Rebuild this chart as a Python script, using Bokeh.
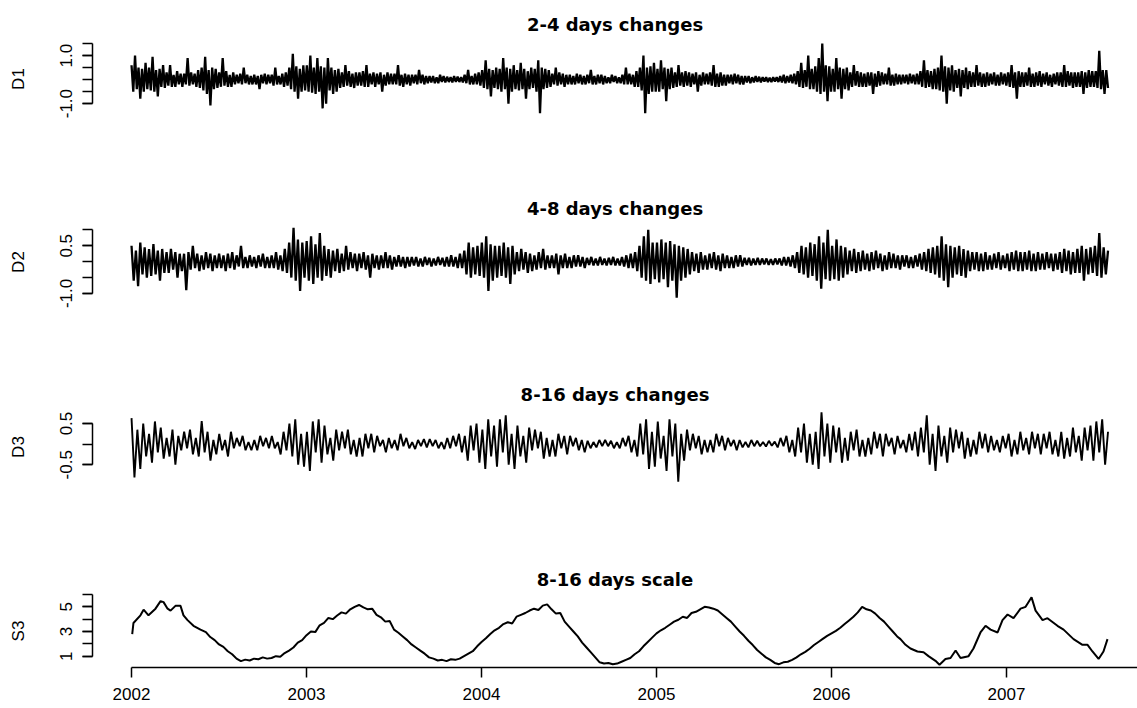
import numpy as np
from bokeh.plotting import figure
from bokeh.layouts import column
from bokeh.models import Range1d, FixedTicker, Title, NumeralTickFormatter
from bokeh.embed import file_html
from bokeh.resources import INLINE

FONT = "Liberation Sans"
TFONT = "DejaVu Sans"

# ---------------- data ----------------
T_START, T_END = 2002.0, 2007.58
year_ticks = [2002, 2003, 2004, 2005, 2006, 2007]

# D1: 2-4 days changes (one row = 0.1 year)
d1 = [.6,-.5,1.0,-.4,.5,-.8,.45,-.5,.7,-.4,
      .5,-.45,.95,-.5,.4,-.7,.45,-.3,.6,-.35,
      .3,-.25,.6,-.3,.2,-.3,.35,-.2,.25,-.3,
      .25,-.2,.9,-.25,.3,-.2,.25,-.3,.4,-.35,
      .5,-.45,.95,-.6,.4,-1.08,.5,-.4,.45,-.35,
      .3,-.3,.9,-.25,.35,-.3,.2,-.3,.3,-.2,
      .2,-.15,.25,-.2,.5,-.15,.2,-.2,.15,-.2,
      .2,-.2,.15,-.4,.2,-.15,.25,-.2,.2,-.15,
      .2,-.25,.5,-.2,.15,-.2,.25,-.3,.3,-.25,
      .5,-.4,1.08,-.5,.55,-.8,.45,-.5,.6,-.45,
      .6,-.5,1.0,-.55,.5,-.6,.9,-.5,.55,-1.2,
      .5,-1.0,.9,-.45,.5,-.6,.4,-.5,.45,-.35,
      .3,-.3,.6,-.25,.35,-.3,.25,-.35,.3,-.25,
      .3,-.25,.35,-.3,.6,-.3,.25,-.2,.3,-.3,
      .25,-.2,.3,-.5,.2,-.25,.3,-.2,.25,-.2,
      .25,-.2,.6,-.25,.2,-.3,.25,-.2,.2,-.25,
      .2,-.15,.2,-.2,.4,-.15,.2,-.2,.15,-.15,
      .15,-.12,.15,-.15,.1,-.15,.2,-.1,.15,-.12,
      .12,-.1,.1,-.12,.15,-.1,.12,-.1,.1,-.12,
      .2,-.15,.4,-.2,.15,-.2,.25,-.2,.3,-.25,
      .4,-.35,.8,-.4,.45,-.7,.4,-.35,.5,-.4,
      .45,-.5,.9,-.4,.5,-1.0,.45,-.5,.6,-.4,
      .4,-.45,.7,-.4,.45,-.8,.35,-.4,.5,-.35,
      .45,-.5,.8,-1.4,.5,-.4,.45,-.35,.4,-.3,
      .25,-.2,.5,-.25,.3,-.2,.25,-.3,.2,-.2,
      .2,-.2,.15,-.2,.25,-.15,.2,-.2,.15,-.2,
      .2,-.15,.4,-.2,.15,-.2,.2,-.15,.2,-.2,
      .15,-.15,.1,-.15,.2,-.1,.15,-.15,.1,-.15,
      .2,-.2,.5,-.2,.25,-.2,.2,-.3,.35,-.3,
      .5,-.45,1.0,-1.4,.5,-.6,.55,-.5,.7,-.5,
      .45,-.5,.8,-.4,.5,-.9,.45,-.4,.5,-.35,
      .3,-.3,.6,-.25,.3,-.3,.35,-.25,.3,-.3,
      .25,-.2,.3,-.5,.2,-.25,.3,-.2,.25,-.2,
      .3,-.25,.6,-.3,.25,-.3,.3,-.25,.2,-.25,
      .2,-.15,.2,-.2,.25,-.15,.2,-.2,.15,-.2,
      .15,-.12,.15,-.15,.1,-.12,.15,-.1,.12,-.12,
      .1,-.08,.1,-.1,.08,-.1,.1,-.08,.1,-.1,
      .15,-.12,.2,-.15,.15,-.12,.2,-.15,.25,-.2,
      .35,-.3,.7,-.35,.4,-.3,1.0,-.4,.45,-.4,
      .55,-.5,.9,-.6,1.5,-.5,.6,-.9,.55,-.5,
      .45,-.5,.9,-.4,.5,-.8,.45,-.4,.5,-.45,
      .3,-.3,.6,-.25,.35,-.3,.3,-.3,.25,-.3,
      .3,-.25,.3,-.6,.25,-.3,.35,-.25,.3,-.2,
      .25,-.2,.5,-.25,.2,-.25,.25,-.2,.2,-.2,
      .2,-.15,.2,-.2,.25,-.15,.2,-.2,.25,-.2,
      .35,-.3,.8,-.35,.4,-.3,.35,-.4,.45,-.4,
      .5,-.45,1.0,-.5,.55,-1.0,.5,-.45,.6,-.5,
      .4,-.35,.45,-.7,.4,-.35,.5,-.4,.35,-.3,
      .3,-.3,.6,-.25,.3,-.3,.25,-.3,.3,-.25,
      .25,-.2,.3,-.25,.2,-.25,.3,-.2,.25,-.25,
      .3,-.3,.6,-.35,.3,-.8,.35,-.3,.3,-.3,
      .3,-.25,.5,-.3,.25,-.3,.3,-.25,.35,-.3,
      .25,-.2,.3,-.25,.2,-.3,.25,-.2,.3,-.25,
      .3,-.3,.6,-.3,.35,-.25,.3,-.35,.3,-.3,
      .3,-.3,.35,-.6,.3,-.35,.4,-.3,.35,-.3,
      .35,-.35,1.2,-.4,.4,-.6,.4,-.35]

# D2: 4-8 days changes (one row = 0.1 year)
d2 = [.5,-.6,.35,-.77,.6,-.4,.45,-.5,
      .4,-.45,.55,-.4,.35,-.6,.4,-.35,
      .3,-.35,.4,-.25,.3,-.5,.25,-.3,
      .25,-.9,.3,-.25,.5,-.2,.25,-.3,
      .2,-.25,.3,-.2,.25,-.3,.2,-.2,
      .25,-.2,.2,-.3,.25,-.2,.3,-.25,
      .2,-.15,.5,-.2,.15,-.2,.2,-.15,
      .15,-.2,.2,-.15,.25,-.2,.15,-.2,
      .2,-.2,.3,-.25,.2,-.3,.4,-.35,
      .6,-.5,1.07,-.6,.7,-.92,.6,-.5,
      .65,-.6,.8,-.7,.55,-.5,.9,-.6,
      .5,-.45,.4,-.5,.35,-.3,.4,-.35,
      .25,-.3,.5,-.25,.3,-.2,.25,-.3,
      .25,-.2,.3,-.25,.2,-.5,.25,-.2,
      .2,-.25,.2,-.2,.3,-.2,.2,-.25,
      .15,-.15,.2,-.15,.15,-.2,.15,-.15,
      .15,-.12,.15,-.15,.1,-.15,.15,-.1,
      .12,-.15,.1,-.12,.15,-.1,.12,-.15,
      .15,-.15,.2,-.15,.15,-.2,.25,-.2,
      .35,-.4,.6,-.5,.45,-.4,.5,-.45,
      .6,-.5,.8,-.92,.55,-.6,.5,-.5,
      .5,-.45,.6,-.5,.45,-.7,.5,-.4,
      .3,-.3,.4,-.25,.3,-.35,.25,-.3,
      .2,-.25,.3,-.2,.4,-.25,.2,-.2,
      .2,-.2,.25,-.4,.2,-.2,.25,-.2,
      .15,-.2,.2,-.15,.2,-.15,.15,-.2,
      .12,-.1,.15,-.12,.1,-.12,.15,-.1,
      .1,-.12,.12,-.1,.15,-.12,.1,-.12,
      .15,-.15,.2,-.2,.25,-.2,.3,-.3,
      .5,-.5,.8,-.6,1.0,-.7,.6,-.55,
      .6,-.65,.7,-.55,.6,-.8,.65,-.6,
      .55,-1.13,.5,-.6,.45,-.5,.4,-.4,
      .3,-.3,.25,-.35,.3,-.25,.2,-.25,
      .25,-.2,.3,-.25,.2,-.3,.25,-.2,
      .2,-.2,.15,-.2,.2,-.15,.2,-.15,
      .12,-.1,.12,-.12,.1,-.1,.12,-.1,
      .1,-.08,.1,-.1,.08,-.1,.1,-.08,
      .1,-.12,.15,-.12,.15,-.15,.2,-.2,
      .3,-.35,.5,-.4,.45,-.5,.6,-.45,
      .55,-.6,.8,-.85,.6,-.55,1.0,-.6,
      .5,-.55,.7,-.6,.5,-.5,.45,-.4,
      .35,-.3,.4,-.35,.3,-.3,.35,-.25,
      .25,-.3,.3,-.25,.35,-.2,.25,-.3,
      .2,-.25,.3,-.2,.25,-.2,.2,-.25,
      .2,-.15,.2,-.2,.15,-.2,.2,-.15,
      .25,-.25,.3,-.3,.4,-.35,.45,-.4,
      .5,-.5,.8,-.6,.55,-.8,.5,-.5,
      .45,-.4,.5,-.45,.4,-.5,.35,-.3,
      .3,-.25,.3,-.3,.25,-.3,.3,-.25,
      .2,-.25,.25,-.2,.3,-.25,.2,-.2,
      .25,-.3,.3,-.25,.35,-.3,.3,-.3,
      .3,-.25,.35,-.3,.25,-.3,.3,-.25,
      .25,-.25,.3,-.2,.25,-.3,.25,-.25,
      .3,-.35,.4,-.3,.35,-.4,.3,-.35,
      .4,-.35,.5,-.6,.4,-.4,.45,-.35,
      .5,-.45,.9,-.5,.45,-.4,.35]

# D3: 8-16 days changes (one row = 0.1 year)
d3 = [.63,-.81,.35,-.6,.5,-.3,
      .25,-.45,.55,-.2,.4,-.35,
      .15,-.3,.35,-.5,.2,-.15,
      .3,-.1,.35,-.25,.15,-.3,
      .56,-.2,.3,-.4,.1,-.25,
      .25,-.15,.1,-.3,.3,-.1,
      .15,-.05,.2,-.15,.05,-.15,
      .1,-.15,.2,-.05,.15,-.1,
      .2,-.1,.05,-.25,.3,-.15,
      .5,-.3,.6,-.5,.25,-.55,
      .3,-.65,.55,-.2,.6,-.45,
      .45,-.25,.15,-.4,.35,-.15,
      .3,-.1,.35,-.25,.1,-.3,
      .15,-.3,.25,-.1,.25,-.2,
      .2,-.05,.1,-.2,.15,-.1,
      .1,-.15,.25,-.05,.15,-.1,
      .05,-.12,.1,-.05,.12,-.08,
      .12,-.05,.1,-.1,.05,-.12,
      .15,-.1,.2,-.05,.25,-.2,
      .2,-.4,.45,-.15,.5,-.45,
      .35,-.6,.6,-.3,.45,-.55,
      .6,-.2,.7,-.5,.25,-.6,
      .45,-.3,.2,-.45,.4,-.15,
      .35,-.1,.3,-.35,.15,-.3,
      .1,-.3,.25,-.1,.2,-.25,
      .2,-.05,.15,-.15,.1,-.2,
      .08,-.1,.05,-.08,.1,-.05,
      .1,-.05,.08,-.1,.05,-.1,
      .15,-.05,.2,-.2,.1,-.3,
      .5,-.25,.6,-.6,.3,-.55,
      .55,-.35,.2,-.65,.6,-.3,
      .5,-.91,.25,-.4,.35,-.15,
      .25,-.1,.2,-.25,.1,-.2,
      .1,-.2,.25,-.05,.2,-.15,
      .15,-.05,.1,-.15,.1,-.08,
      .05,-.08,.1,-.05,.08,-.05,
      .05,-.06,.08,-.04,.06,-.08,
      .15,-.05,.2,-.2,.1,-.3,
      .4,-.2,.5,-.45,.25,-.5,
      .3,-.6,.77,-.3,.5,-.45,
      .45,-.2,.4,-.45,.15,-.4,
      .3,-.15,.35,-.3,.1,-.3,
      .15,-.25,.3,-.1,.25,-.3,
      .25,-.05,.15,-.25,.2,-.1,
      .1,-.2,.25,-.15,.3,-.3,
      .4,-.2,.7,-.5,.25,-.65,
      .45,-.3,.2,-.45,.4,-.2,
      .35,-.1,.3,-.35,.15,-.3,
      .1,-.25,.3,-.1,.25,-.2,
      .2,-.15,.1,-.2,.2,-.1,
      .25,-.3,.1,-.25,.3,-.15,
      .15,-.25,.3,-.1,.25,-.25,
      .25,-.1,.3,-.25,.1,-.3,
      .3,-.35,.15,-.3,.4,-.2,
      .2,-.4,.4,-.15,.45,-.4,
      .55,-.2,.6,-.5,.3]

# S3: 8-16 days scale
s3_head_t = [2002.004,2002.011,2002.051,2002.069,2002.097,2002.137,2002.166,2002.183,
             2002.206,2002.223,2002.251,2002.28,2002.297,2002.32,2002.354,2002.394]
s3_head_v = [2.79,3.69,4.31,4.77,4.31,4.85,5.46,5.38,
             4.85,4.69,5.08,5.08,4.31,3.92,3.46,3.15]
# readings every 0.025 year from 2002.425 to 2006.375
S3_MID_START, S3_MID_STEP = 2002.425, 0.025
s3_mid_v = [2.95,2.55,2.3,1.95,1.75,1.4,1.15,0.8,0.6,0.72,0.65,0.8,0.75,0.9,0.8,0.85,
            1.0,0.95,1.25,1.45,1.7,2.1,2.3,
            2.7,3.0,2.95,3.5,3.7,4.1,4.0,4.3,4.55,4.45,4.8,5.0,5.15,4.95,4.8,4.85,
            4.35,4.15,3.8,3.85,3.15,2.9,2.6,2.3,1.95,1.7,1.45,1.2,0.9,0.8,0.65,0.7,
            0.6,0.75,0.7,0.8,1.0,1.2,1.4,1.8,
            2.15,2.45,2.8,3.1,3.3,3.6,3.75,3.65,4.2,4.35,4.5,4.7,4.85,4.75,5.1,5.2,
            4.8,4.45,4.5,3.8,3.4,3.0,2.6,2.1,1.7,1.3,0.9,0.5,0.4,0.45,0.35,0.4,
            0.55,0.7,0.85,1.15,1.4,1.8,2.15,2.5,
            2.85,3.1,3.3,3.55,3.8,3.95,4.2,4.1,4.5,4.6,4.8,5.0,4.95,4.85,4.7,4.4,
            4.1,3.8,3.4,3.0,2.65,2.25,1.9,1.5,1.2,0.9,0.7,0.45,0.35,0.5,0.55,0.7,
            0.9,1.15,1.35,1.6,1.9,2.15,2.4,2.65,
            2.85,3.05,3.3,3.6,3.9,4.2,4.55,5.0,4.8,4.7,4.45,4.1,3.8,3.4,3.0,2.6]
s3_tail_t = [2006.394,2006.423,2006.451,2006.491,2006.526,2006.554,2006.594,2006.617,
             2006.651,2006.68,2006.709,2006.737,2006.783,2006.811,2006.851,2006.88,2006.909,
             2006.949,2006.977,2007.006,2007.04,2007.08,2007.109,2007.143,2007.166,2007.206,
             2007.234,2007.291,2007.326,2007.383,2007.434,2007.463,2007.491,2007.526,2007.554,
             2007.577]
s3_tail_v = [2.38,1.92,1.62,1.38,1.31,1.0,0.62,0.31,
             0.77,0.85,1.46,0.85,1.0,1.62,2.92,3.46,3.15,
             2.92,3.92,4.38,4.08,4.85,5.0,5.77,4.69,3.92,
             4.08,3.46,3.15,2.38,1.92,1.92,1.38,0.77,1.38,
             2.38]

s3_t = (list(s3_head_t)
        + list(S3_MID_START + S3_MID_STEP * np.arange(len(s3_mid_v)))
        + list(s3_tail_t))
s3_v = list(s3_head_v) + list(s3_mid_v) + list(s3_tail_v)

panels = [
    dict(title="2-4 days changes", ylab="D1", y=d1, yr=(-1.58, 1.63),
         major=[-1.0, 1.0], minor=[-1.0, -0.5, 0.0, 0.5, 1.0, 1.5], fmt="0.0",
         top=40, fh=77, bottom=73, so=12, lw=2.3),
    dict(title="4-8 days changes", ylab="D2", y=d2, yr=(-1.19, 1.17),
         major=[-1.0, 0.5], minor=[-1.0, -0.5, 0.0, 0.5, 1.0], fmt="0.0",
         top=32, fh=77, bottom=77, so=11, lw=2.3),
    dict(title="8-16 days changes", ylab="D3", y=d3, yr=(-0.98, 0.84),
         major=[-0.5, 0.5], minor=[-0.5, 0.0, 0.5], fmt="0.0",
         top=30, fh=78, bottom=77, so=10, lw=1.9),
    dict(title="8-16 days scale", ylab="S3", y=None, yr=(0.08, 6.0),
         major=[1, 3, 5], minor=[1, 2, 3, 4, 5, 6], fmt="0",
         top=29, fh=77, bottom=40, so=10, lw=2.0),
]

W = 1137
LEFT = 92
X0 = 2001.777
X1 = X0 + (W - LEFT) / 175.0

figs = []
for i, pn in enumerate(panels):
    h = pn["top"] + pn["fh"] + pn["bottom"]
    p = figure(width=W, height=h, output_backend="svg", toolbar_location=None,
               x_range=Range1d(X0, X1), y_range=Range1d(*pn["yr"]),
               min_border_left=LEFT, min_border_right=0,
               min_border_top=pn["top"], min_border_bottom=pn["bottom"],
               title=None)
    p.outline_line_color = None
    p.grid.visible = False
    p.background_fill_color = "white"
    p.border_fill_color = "white"

    t = Title(text=pn["title"], align="center", text_font=TFONT,
              text_font_size="18px", text_font_style="bold",
              text_color="black", standoff=pn["so"], offset=2)
    p.add_layout(t, "above")

    if pn["y"] is not None:
        ys = np.array(pn["y"], dtype=float)
        xs = np.linspace(T_START, T_END, len(ys))
        p.line(xs, ys, line_color="black", line_width=pn["lw"])
    else:
        p.line(s3_t, s3_v, line_color="black", line_width=pn["lw"])

    ya = p.yaxis[0]
    ya.ticker = FixedTicker(ticks=pn["major"], minor_ticks=pn["minor"])
    ya.formatter = NumeralTickFormatter(format=pn["fmt"])
    ya.bounds = (pn["minor"][0], pn["minor"][-1])
    ya.major_label_orientation = "vertical"
    ya.major_label_text_font = FONT
    ya.major_label_text_font_size = "17px"
    ya.major_label_text_color = "black"
    ya.major_label_standoff = 10
    ya.major_tick_out = 10
    ya.major_tick_in = 0
    ya.minor_tick_out = 10
    ya.minor_tick_in = 0
    ya.major_tick_line_color = "black"
    ya.minor_tick_line_color = "black"
    ya.major_tick_line_width = 1.5
    ya.minor_tick_line_width = 1.5
    ya.axis_line_color = "black"
    ya.axis_line_width = 1.5
    ya.axis_label = pn["ylab"]
    ya.axis_label_text_font = FONT
    ya.axis_label_text_font_size = "17px"
    ya.axis_label_text_font_style = "normal"
    ya.axis_label_text_color = "black"
    ya.axis_label_standoff = 30

    xa = p.xaxis[0]
    if i < 3:
        xa.visible = False
    else:
        xa.ticker = FixedTicker(ticks=year_ticks)
        xa.bounds = (2002, X1)
        xa.major_label_text_font = FONT
        xa.major_label_text_font_size = "17px"
        xa.major_label_text_color = "black"
        xa.major_label_standoff = 10
        xa.major_tick_out = 10
        xa.major_tick_in = 0
        xa.minor_tick_out = 0
        xa.minor_tick_in = 0
        xa.major_tick_line_width = 1.5
        xa.axis_line_width = 1.5
        xa.axis_line_color = "black"
        xa.major_tick_line_color = "black"
    figs.append(p)

layout = column(*figs, spacing=0)
open("out.html", "w").write(file_html(layout, INLINE))
